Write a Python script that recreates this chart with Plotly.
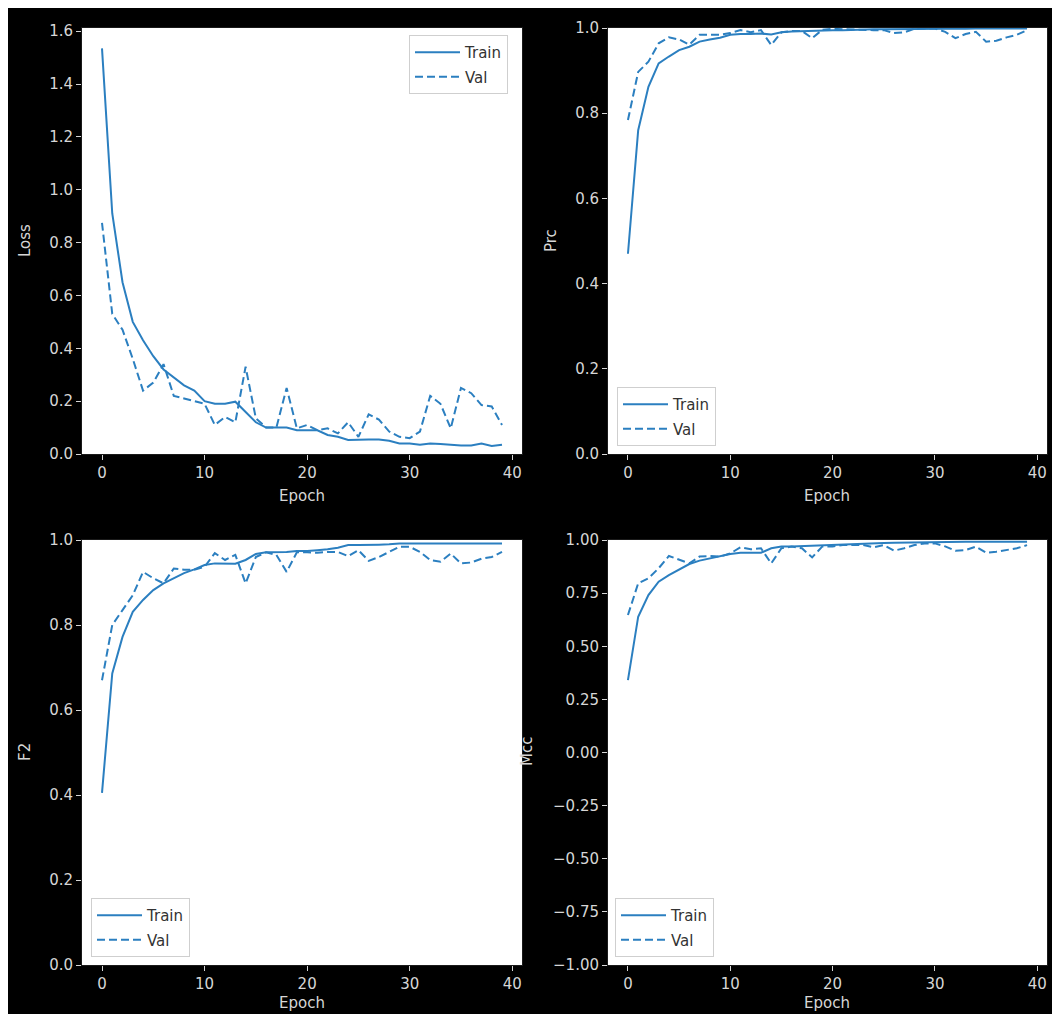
import plotly.graph_objects as go

epochs = list(range(40))

loss_train = [1.535, 0.91, 0.65, 0.50, 0.43, 0.37, 0.32, 0.29, 0.26, 0.24,
              0.20, 0.19, 0.19, 0.198, 0.16, 0.12, 0.10, 0.10, 0.10, 0.09,
              0.09, 0.09, 0.072, 0.065, 0.053, 0.055, 0.055, 0.055, 0.05, 0.04,
              0.04, 0.035, 0.04, 0.038, 0.035, 0.032, 0.032, 0.04, 0.03, 0.035]
loss_val = [0.875, 0.53, 0.47, 0.36, 0.24, 0.27, 0.34, 0.22, 0.21, 0.20,
            0.19, 0.11, 0.14, 0.12, 0.33, 0.135, 0.10, 0.10, 0.25, 0.097,
            0.11, 0.09, 0.097, 0.078, 0.12, 0.065, 0.15, 0.13, 0.085, 0.065,
            0.06, 0.085, 0.22, 0.19, 0.097, 0.25, 0.23, 0.185, 0.18, 0.11]

prc_train = [0.47, 0.76, 0.862, 0.917, 0.933, 0.948, 0.956, 0.968, 0.973, 0.977,
             0.984, 0.986, 0.986, 0.987, 0.985, 0.99, 0.992, 0.993, 0.993, 0.994,
             0.995, 0.995, 0.996, 0.996, 0.997, 0.997, 0.997, 0.998, 0.998, 0.998,
             0.998, 0.998, 0.999, 0.998, 0.999, 0.999, 0.999, 0.998, 0.999, 0.999]
prc_val = [0.784, 0.897, 0.921, 0.964, 0.978, 0.973, 0.961, 0.984, 0.984, 0.984,
           0.988, 0.995, 0.99, 0.995, 0.96, 0.99, 0.993, 0.993, 0.976, 0.996,
           0.998, 0.997, 0.996, 0.996, 0.995, 0.995, 0.988, 0.99, 0.998, 0.999,
           0.999, 0.991, 0.976, 0.986, 0.991, 0.968, 0.970, 0.978, 0.984, 0.995]

f2_train = [0.405, 0.686, 0.772, 0.831, 0.859, 0.882, 0.898, 0.91, 0.922, 0.931,
            0.941, 0.945, 0.945, 0.944, 0.953, 0.967, 0.971, 0.971, 0.972, 0.974,
            0.974, 0.976, 0.978, 0.982, 0.988, 0.988, 0.988, 0.989, 0.990, 0.992,
            0.992, 0.992, 0.993, 0.993, 0.993, 0.993, 0.993, 0.992, 0.993, 0.992]
f2_val = [0.67, 0.80, 0.835, 0.87, 0.925, 0.91, 0.898, 0.933, 0.93, 0.93,
          0.937, 0.969, 0.953, 0.965, 0.898, 0.96, 0.971, 0.965, 0.925, 0.971,
          0.971, 0.970, 0.972, 0.972, 0.962, 0.976, 0.951, 0.96, 0.972, 0.984,
          0.984, 0.972, 0.953, 0.949, 0.968, 0.945, 0.947, 0.956, 0.96, 0.972]

mcc_train = [0.341, 0.639, 0.741, 0.804, 0.835, 0.862, 0.887, 0.903, 0.914, 0.922,
             0.934, 0.94, 0.94, 0.94, 0.961, 0.969, 0.97, 0.972, 0.975, 0.976,
             0.978, 0.98, 0.982, 0.983, 0.984, 0.986, 0.987, 0.988, 0.99, 0.99,
             0.99, 0.991, 0.991, 0.992, 0.992, 0.992, 0.992, 0.992, 0.992, 0.992]
mcc_val = [0.647, 0.796, 0.82, 0.867, 0.925, 0.906, 0.89, 0.922, 0.925, 0.922,
           0.937, 0.966, 0.956, 0.961, 0.89, 0.961, 0.969, 0.961, 0.918, 0.97,
           0.97, 0.976, 0.976, 0.976, 0.966, 0.976, 0.95, 0.961, 0.976, 0.984,
           0.984, 0.97, 0.95, 0.953, 0.969, 0.94, 0.945, 0.953, 0.961, 0.976]

x_ticks = [0, 10, 20, 30, 40]
loss_ticks = [0.0, 0.2, 0.4, 0.6, 0.8, 1.0, 1.2, 1.4, 1.6]
unit_ticks = [0.0, 0.2, 0.4, 0.6, 0.8, 1.0]
mcc_ticks = [-1.0, -0.75, -0.5, -0.25, 0.0, 0.25, 0.5, 0.75, 1.0]

metric_names = ["Loss", "Prc", "F2", "Mcc"]
x_label = "Epoch"
series_names = ["Train", "Val"]

W, H = 1052, 1014
FONT = "DejaVu Sans"
LINE = "#2b7fc0"
TICKC = "#d6d6d6"


def pxx(x):
    return x / W


def pyy(y):
    return 1 - y / H


def fmt(v, nd):
    s = f"{v:.{nd}f}"
    return s.replace("-", "\u2212")


fig = go.Figure()

panels = [
    (loss_train, loss_val, "x", "y", "legend"),
    (prc_train, prc_val, "x2", "y2", "legend2"),
    (f2_train, f2_val, "x3", "y3", "legend3"),
    (mcc_train, mcc_val, "x4", "y4", "legend4"),
]
for i, (tr, va, xa, ya, lg) in enumerate(panels):
    fig.add_trace(go.Scatter(x=epochs, y=tr, mode="lines", name=series_names[0],
                             line=dict(color=LINE, width=2), xaxis=xa, yaxis=ya,
                             legend=lg, legendgroup=f"tr{i}"))
    fig.add_trace(go.Scatter(x=epochs, y=va, mode="lines", name=series_names[1],
                             line=dict(color=LINE, width=2, dash="8px,4px"),
                             xaxis=xa, yaxis=ya, legend=lg, legendgroup=f"va{i}"))

left_dom = [pxx(82), pxx(522)]
right_dom = [pxx(608), pxx(1047)]
top_dom = [pyy(454), pyy(28)]
bot_dom = [pyy(965), pyy(540)]

common = dict(showgrid=False, zeroline=False, showline=True, linecolor="#1a1a1a",
              linewidth=1, mirror=True, ticks="outside", ticklen=5, tickwidth=1,
              tickcolor=TICKC, tickfont=dict(family=FONT, size=15, color=TICKC),
              automargin=False)

xcommon = dict(common, range=[-1.95, 40.95], tickvals=x_ticks,
               ticktext=[str(t) for t in x_ticks])

fig.update_layout(
    xaxis=dict(xcommon, domain=left_dom, anchor="y"),
    xaxis2=dict(xcommon, domain=right_dom, anchor="y2"),
    xaxis3=dict(xcommon, domain=left_dom, anchor="y3"),
    xaxis4=dict(xcommon, domain=right_dom, anchor="y4"),
    yaxis=dict(common, domain=top_dom, anchor="x", range=[0, 1.612],
               tickvals=loss_ticks, ticktext=[fmt(t, 1) for t in loss_ticks]),
    yaxis2=dict(common, domain=top_dom, anchor="x2", range=[0, 1],
                tickvals=unit_ticks, ticktext=[fmt(t, 1) for t in unit_ticks]),
    yaxis3=dict(common, domain=bot_dom, anchor="x3", range=[0, 1],
                tickvals=unit_ticks, ticktext=[fmt(t, 1) for t in unit_ticks]),
    yaxis4=dict(common, domain=bot_dom, anchor="x4", range=[-1, 1],
                tickvals=mcc_ticks, ticktext=[fmt(t, 2) for t in mcc_ticks]),
)

leg_common = dict(bgcolor="white", bordercolor="#cfcfcf", borderwidth=1,
                  font=dict(family=FONT, size=15, color="#333333"),
                  xanchor="left", itemwidth=45, tracegroupgap=2)
fig.update_layout(
    legend=dict(leg_common, x=pxx(409), y=pyy(35), yanchor="top"),
    legend2=dict(leg_common, x=pxx(617), y=pyy(446), yanchor="bottom"),
    legend3=dict(leg_common, x=pxx(91), y=pyy(957), yanchor="bottom"),
    legend4=dict(leg_common, x=pxx(615), y=pyy(957), yanchor="bottom"),
)

annots = []
ylab_pos = [(25, 241), (551, 241), (25, 752), (527, 752)]
for name, (x, y) in zip(metric_names, ylab_pos):
    annots.append(dict(text=name, x=pxx(x), y=pyy(y), xref="paper", yref="paper",
                       showarrow=False, textangle=-90, xanchor="center",
                       yanchor="middle",
                       font=dict(family=FONT, size=15, color=TICKC)))
for x, y in [(302, 496), (827, 496), (302, 1003), (827, 1003)]:
    annots.append(dict(text=x_label, x=pxx(x), y=pyy(y), xref="paper", yref="paper",
                       showarrow=False, xanchor="center", yanchor="middle",
                       font=dict(family=FONT, size=15, color=TICKC)))

shapes = [
    dict(type="rect", xref="paper", yref="paper", x0=0, x1=pxx(8), y0=0, y1=1,
         fillcolor="white", line=dict(width=0), layer="above"),
    dict(type="rect", xref="paper", yref="paper", x0=0, x1=1, y0=pyy(8), y1=1,
         fillcolor="white", line=dict(width=0), layer="above"),
]

fig.update_layout(width=W, height=H,
                  margin=dict(l=0, r=0, t=0, b=0, pad=0, autoexpand=False),
                  paper_bgcolor="black", plot_bgcolor="white",
                  annotations=annots, shapes=shapes,
                  font=dict(family=FONT, size=15, color=TICKC))

fig.write_html("out.html")
